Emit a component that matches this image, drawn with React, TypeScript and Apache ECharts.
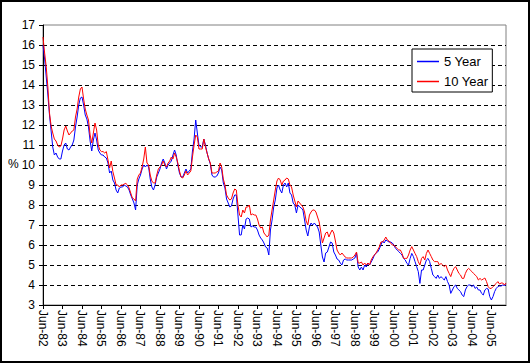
import React, { useEffect, useRef } from "react";
import * as echarts from "echarts";

const FONT = "'Liberation Sans', Arial, Helvetica, sans-serif";

const MONTHS = ["Jan", "Feb", "Mar", "Apr", "May", "Jun", "Jul", "Aug", "Sep", "Oct", "Nov", "Dec"];
const START_MONTH = 5; // June
const START_YEAR = 1982;

const fiveYear: number[] = [
  16.0, 15.3, 14.4, 13.5, 12.5, 11.7, 10.9, 10.5, 10.6, 10.4, 10.3, 10.3,
  10.7, 11.0, 11.1, 10.8, 10.75, 10.9, 11.0, 11.25, 11.9, 12.4, 13.0, 13.35,
  13.4, 13.0, 12.5, 12.3, 11.9, 11.2, 10.7, 11.25, 11.6, 11.25, 10.75, 10.6,
  10.5, 10.5, 10.4, 10.35, 10.1, 9.6, 9.7, 9.25, 9.1, 8.75, 8.6, 8.85,
  8.9, 8.9, 9.0, 8.95, 8.9, 8.75, 8.5, 8.3, 8.1, 7.75, 9.0, 9.3,
  9.5, 9.8, 10.0, 9.9, 10.0, 9.9, 9.3, 8.9, 8.75, 9.0, 9.4, 9.6,
  9.8, 10.1, 10.3, 10.1, 9.8, 10.0, 10.1, 10.2, 10.5, 10.75, 10.5, 10.0,
  9.6, 9.4, 9.4, 9.6, 9.8, 9.6, 9.7, 9.8, 10.7, 11.3, 12.25, 11.6,
  11.0, 10.9, 10.9, 11.3, 11.0, 10.6, 10.3, 10.05, 9.5, 9.4, 9.4, 9.45,
  9.6, 9.9, 9.75, 9.1, 8.85, 8.3, 8.1, 7.9, 7.95, 8.3, 8.5, 8.5,
  7.5, 6.5, 6.5, 7.0, 6.8, 7.3, 7.35, 7.3, 6.9, 6.95, 6.9, 6.9,
  6.75, 6.5, 6.35, 6.25, 6.1, 5.9, 5.85, 5.5, 6.75, 7.25, 7.9, 8.25,
  8.85, 9.0, 8.75, 8.6, 9.0, 9.1, 8.9, 9.1, 8.6, 8.5, 8.1, 8.0,
  7.6, 8.0, 7.9, 7.85, 7.75, 7.25, 6.75, 6.45, 6.9, 7.1, 7.0, 7.1,
  7.0, 6.9, 6.65, 6.0, 5.4, 5.15, 5.6, 5.65, 5.9, 6.15, 6.1, 5.65,
  5.5, 5.3, 5.25, 5.1, 5.0, 5.25, 5.3, 5.25, 5.25, 5.25, 5.25, 5.3,
  5.35, 5.6, 4.9, 4.75, 4.9, 4.75, 5.0, 4.9, 5.1, 5.0, 5.15, 5.3,
  5.5, 5.6, 5.65, 5.8, 6.0, 6.2, 6.1, 6.25, 6.2, 6.15, 6.15, 6.1,
  6.0, 5.83, 5.75, 5.67, 5.58, 5.5, 5.33, 5.25, 5.08, 5.0, 5.33, 5.58,
  5.42, 5.17, 4.92, 4.67, 4.08, 4.75, 4.75, 5.0, 5.25, 5.33, 5.17, 4.83,
  4.5, 4.42, 4.33, 4.5, 4.33, 4.42, 4.33, 4.25, 4.42, 4.17, 4.0, 3.58,
  3.75, 3.92, 4.0, 3.83, 3.75, 3.67, 3.5, 3.42, 3.75, 3.92, 4.0, 4.0,
  3.92, 4.0, 3.83, 3.9, 3.75, 3.75, 3.58, 3.5, 3.75, 3.83, 3.8, 3.42,
  3.25, 3.42, 3.67, 3.83, 3.92, 3.95, 3.95, 4.0, 3.98, 4.02,
];

const tenYear: number[] = [
  16.4, 15.6, 14.9, 13.9, 12.6, 11.95, 11.6, 11.3, 11.2, 11.0, 10.9, 10.95,
  11.3, 11.75, 11.95, 11.7, 11.5, 11.6, 11.7, 11.75, 12.4, 12.8, 13.4, 13.8,
  13.9, 13.3, 12.8, 12.5, 12.25, 11.5, 11.1, 11.6, 12.1, 11.75, 11.0, 10.75,
  10.67, 10.67, 10.6, 10.67, 10.25, 9.85, 10.2, 9.67, 9.35, 9.0, 9.0, 8.9,
  9.0, 9.0, 9.05, 9.08, 9.0, 8.85, 8.6, 8.35, 8.3, 8.2, 9.3, 9.5,
  9.6, 9.9, 10.3, 10.9, 10.1, 10.0, 9.5, 9.2, 9.1, 9.1, 9.5, 9.8,
  9.9, 10.0, 10.2, 10.0, 9.9, 10.1, 10.2, 10.4, 10.3, 10.6, 10.4, 10.1,
  9.7, 9.4, 9.35, 9.5, 9.7, 9.5, 9.6, 9.7, 10.4, 11.0, 11.5, 11.4,
  10.8, 10.8, 10.8, 11.3, 10.9, 10.6, 10.3, 10.1, 9.6, 9.6, 9.6, 9.65,
  9.7, 10.1, 9.9, 9.3, 9.0, 8.5, 8.35, 8.25, 8.3, 8.6, 8.8, 8.75,
  8.0, 7.5, 7.4, 7.75, 7.6, 7.9, 7.9, 8.0, 7.5, 7.55, 7.5, 7.5,
  7.3, 7.0, 6.85, 6.9, 6.6, 6.5, 6.4, 6.5, 7.25, 7.75, 8.25, 8.75,
  9.2, 9.35, 9.25, 9.0, 9.2, 9.25, 9.35, 9.3, 9.0, 8.9, 8.5, 8.2,
  7.9, 8.2, 8.1, 8.0, 7.9, 7.65, 7.2, 7.0, 7.5, 7.65, 7.75, 7.75,
  7.65, 7.4, 7.15, 6.65, 6.1, 6.35, 6.6, 6.65, 6.4, 6.6, 6.75, 6.6,
  6.2, 5.75, 5.6, 5.5, 5.6, 5.5, 5.4, 5.35, 5.35, 5.35, 5.35, 5.4,
  5.5, 5.65, 5.1, 5.1, 5.15, 5.0, 5.1, 5.0, 5.1, 5.0, 5.25, 5.4,
  5.5, 5.6, 5.75, 5.9, 6.15, 6.15, 6.25, 6.4, 6.25, 6.2, 6.1, 6.0,
  6.0, 5.9, 5.83, 5.75, 5.75, 5.58, 5.33, 5.33, 5.33, 5.5, 5.75, 5.92,
  5.75, 5.58, 5.42, 5.17, 5.0, 5.33, 5.42, 5.25, 5.58, 5.75, 5.58, 5.42,
  5.25, 5.17, 5.17, 5.17, 5.0, 5.08, 5.0, 4.92, 5.0, 4.75, 4.58, 4.42,
  4.67, 4.83, 4.92, 4.75, 4.58, 4.5, 4.33, 4.33, 4.58, 4.75, 4.83, 4.75,
  4.67, 4.58, 4.5, 4.42, 4.25, 4.33, 4.25, 4.3, 4.35, 4.17, 3.92, 3.83,
  3.83, 3.92, 4.0, 4.08, 4.17, 4.05, 4.1, 4.1, 4.0, 4.1,
];

const seriesNames = ["5 Year", "10 Year"];
const seriesColors = ["#0000FF", "#FF0000"];

const categories: string[] = fiveYear.map((_, i) => {
  const mi = (START_MONTH + i) % 12;
  const yr = START_YEAR + Math.floor((START_MONTH + i) / 12);
  return `${MONTHS[mi]}-${String(yr % 100).padStart(2, "0")}`;
});

export default function App() {
  const ref = useRef<HTMLDivElement>(null);

  useEffect(() => {
    document.body.style.margin = "0";
    if (!ref.current) return;
    const chart = echarts.init(ref.current, undefined, { renderer: "svg" });
    chart.setOption({
      animation: false,
      backgroundColor: "#ffffff",
      textStyle: { fontFamily: FONT, color: "#000" },
      grid: {
        left: 43,
        right: 24,
        top: 25,
        bottom: 58,
        show: true,
        borderColor: "#808080",
        borderWidth: 1,
        containLabel: false,
        outerBoundsMode: "none",
      },
      legend: {
        data: seriesNames,
        orient: "vertical",
        left: 412,
        top: 49,
        padding: [5, 4, 3, 5],
        itemGap: 5,
        itemWidth: 22,
        itemHeight: 1.5,
        icon: "rect",
        borderColor: "#000",
        borderWidth: 1,
        backgroundColor: "#fff",
        selectedMode: false,
        textStyle: { fontSize: 13, fontFamily: FONT, color: "#000", lineHeight: 15 },
      },
      xAxis: {
        type: "category",
        data: categories,
        boundaryGap: false,
        axisLine: { lineStyle: { color: "#000", width: 1 } },
        axisTick: { interval: 11, length: 4, lineStyle: { color: "#000" } },
        axisLabel: {
          interval: 11,
          rotate: -90,
          margin: 5,
          fontSize: 12,
          color: "#000",
          fontFamily: FONT,
        },
        splitLine: { show: false },
      },
      yAxis: {
        type: "value",
        min: 3,
        max: 17,
        interval: 1,
        axisLine: { show: true, lineStyle: { color: "#000", width: 1 } },
        axisTick: { show: true, length: 4, lineStyle: { color: "#000" } },
        axisLabel: { margin: 8, fontSize: 12, color: "#000", fontFamily: FONT },
        splitLine: {
          show: true,
          showMinLine: false,
          showMaxLine: false,
          lineStyle: { color: "#000", type: [4, 3], width: 1 },
        },
      },
      series: [
        {
          name: seriesNames[0],
          type: "line",
          data: fiveYear,
          showSymbol: false,
          symbol: "none",
          color: seriesColors[0],
          lineStyle: { color: seriesColors[0], width: 1 },
        },
        {
          name: seriesNames[1],
          type: "line",
          data: tenYear,
          showSymbol: false,
          symbol: "none",
          color: seriesColors[1],
          lineStyle: { color: seriesColors[1], width: 1 },
        },
      ],
      graphic: [
        {
          type: "rect",
          shape: { x: 1, y: 1, width: 528, height: 361 },
          style: { fill: "none", stroke: "#000", lineWidth: 2 },
          silent: true,
          z: 100,
        },
        {
          type: "text",
          left: 8,
          top: 158,
          style: { text: "%", fontSize: 12, fontFamily: FONT, fill: "#000" },
        },
      ],
    });
    return () => chart.dispose();
  }, []);

  return <div ref={ref} style={{ width: 530, height: 363 }} />;
}
